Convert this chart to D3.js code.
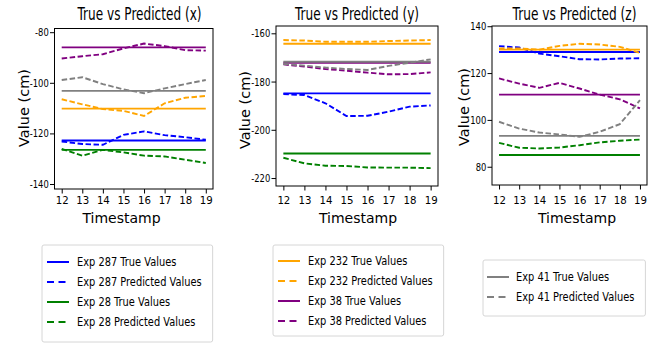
<!DOCTYPE html>
<html>
<head>
<meta charset="utf-8">
<script src="https://cdn.jsdelivr.net/npm/d3@7"></script>
<style>
  html, body { margin: 0; padding: 0; background: #fff; }
  svg { display: block; }
  text { font-family: "DejaVu Sans", sans-serif; fill: #000; }
</style>
</head>
<body>
<svg id="chart" width="662" height="343"></svg>
<script>
// ---------- DATA ----------
const timestamps = [12, 13, 14, 15, 16, 17, 18, 19];
const experiments = ["287", "28", "232", "38", "41"];
const expColors = ["#0000ff", "#008000", "#ffa500", "#800080", "#808080"];
const panelTitles = ["True vs Predicted (x)", "True vs Predicted (y)", "True vs Predicted (z)"];
const yTicksX = [-140, -120, -100, -80];
const yTicksY = [-220, -200, -180, -160];
const yTicksZ = [80, 100, 120, 140];

// true values (constant over timestamps), order = experiments
const trueX = [-122.8, -126.5, -110.2, -86.0, -103.2];
const trueY = [-184.9, -209.8, -164.3, -172.2, -171.8];
const trueZ = [129.0, 85.0, 130.0, 110.8, 93.2];

// predicted values – x
const predX287 = [-123.2, -124.2, -124.5, -120.6, -119.2, -120.7, -121.5, -122.5];
const predX28  = [-126.1, -128.8, -126.5, -127.5, -128.8, -129.1, -130.4, -131.7];
const predX232 = [-106.5, -108.5, -110.4, -111.1, -113.1, -108.1, -105.9, -105.2];
const predX38  = [-90.4, -89.5, -88.7, -86.4, -84.5, -85.5, -87.1, -87.3];
const predX41  = [-98.9, -97.8, -100.5, -102.6, -104.1, -102.2, -100.5, -98.9];

// predicted values – y
const predY287 = [-185.2, -185.6, -189.0, -194.3, -194.2, -192.5, -190.4, -189.9];
const predY28  = [-211.6, -213.9, -214.9, -215.0, -215.6, -215.7, -215.7, -215.9];
const predY232 = [-162.8, -163.0, -163.5, -163.5, -163.5, -163.2, -163.0, -162.8];
const predY38  = [-172.9, -173.8, -174.8, -175.5, -176.3, -177.0, -176.9, -176.2];
const predY41  = [-172.7, -173.4, -174.2, -174.8, -175.2, -173.5, -172.2, -170.8];

// predicted values – z
const predZ287 = [131.5, 130.9, 128.3, 127.2, 125.9, 125.8, 126.2, 126.3];
const predZ28  = [90.2, 88.1, 87.8, 88.2, 89.2, 90.4, 91.1, 91.6];
const predZ232 = [130.5, 130.5, 130.0, 131.6, 132.5, 132.2, 131.2, 128.6];
const predZ38  = [117.7, 115.5, 113.7, 115.8, 113.4, 110.8, 108.8, 104.9];
const predZ41  = [99.2, 96.3, 94.6, 93.8, 92.8, 94.9, 98.2, 108.4];

const legendGroups = [[0, 1], [2, 3], [4]];

// ---------- LAYOUT ----------
const panels = [
  { left: 54.5, right: 213, top: 28.5, bottom: 189, yDom: [-141.97, -78.54], ticks: yTicksX,
    trueV: trueX, pred: [predX287, predX28, predX232, predX38, predX41],
    titleX: 139.5, ylabX: 29, ylabY: 108, xlabX: 121.5 },
  { left: 276, right: 438, top: 26, bottom: 186, yDom: [-223.3, -156.97], ticks: yTicksY,
    trueV: trueY, pred: [predY287, predY28, predY232, predY38, predY41],
    titleX: 357, ylabX: 250, ylabY: 110, xlabX: 358 },
  { left: 492, right: 647, top: 26, bottom: 185, yDom: [72.2, 140.1], ticks: yTicksZ,
    trueV: trueZ, pred: [predZ287, predZ28, predZ232, predZ38, predZ41],
    titleX: 574.5, ylabX: 469, ylabY: 107, xlabX: 577 }
];

const legends = [
  { x: 42, y: 245, h: 97, rowY: 262, textX: 77, lineX: 47 },
  { x: 273, y: 245, h: 91, rowY: 261, textX: 308, lineX: 278 },
  { x: 483, y: 260, h: 56, rowY: 277, textX: 516, lineX: 487 }
];

const svg = d3.select("#chart");

// place a text at (x,y) and compress it horizontally by `ratio` (condensed look)
function condensedText(parent, x, y, str, size, ratio, anchor, fill) {
  const t = parent.append("text")
    .attr("x", 0).attr("y", 0)
    .attr("font-size", size)
    .attr("text-anchor", anchor || "start")
    .attr("fill", fill || "#000")
    .attr("transform", `translate(${x},${y}) scale(${ratio},1)`)
    .text(str);
  return t;
}

panels.forEach((p, pi) => {
  const x = d3.scaleLinear().domain([11.65, 19.35]).range([p.left, p.right]);
  const y = d3.scaleLinear().domain(p.yDom).range([p.bottom, p.top]);
  const g = svg.append("g");

  const line = d3.line().x((d, i) => x(timestamps[i])).y(d => y(d));

  experiments.forEach((e, ei) => {
    g.append("path")
      .attr("d", line(timestamps.map(() => p.trueV[ei])))
      .attr("fill", "none").attr("stroke", expColors[ei]).attr("stroke-width", 1.9);
    g.append("path")
      .attr("d", line(p.pred[ei]))
      .attr("fill", "none").attr("stroke", expColors[ei]).attr("stroke-width", 1.9)
      .attr("stroke-dasharray", "5.5,2.5");
  });

  // frame
  g.append("rect")
    .attr("x", p.left).attr("y", p.top)
    .attr("width", p.right - p.left).attr("height", p.bottom - p.top)
    .attr("fill", "none").attr("stroke", "#000").attr("stroke-width", 1);

  // y axis (ticks from the scale, labels condensed)
  const ya = g.append("g").attr("transform", `translate(${p.left},0)`)
    .call(d3.axisLeft(y).tickValues(p.ticks).tickSize(4.5).tickFormat(() => ""));
  ya.select(".domain").remove();
  ya.selectAll("line").attr("stroke", "#000");
  ya.selectAll(".tick").each(function (d) {
    condensedText(d3.select(this), -5.7, 3.5, String(d), 10, 0.84, "end");
  });

  // x axis
  const xa = g.append("g").attr("transform", `translate(0,${p.bottom})`)
    .call(d3.axisBottom(x).tickValues(timestamps).tickSize(4.5).tickFormat(d3.format("d")));
  xa.select(".domain").remove();
  xa.selectAll("line").attr("stroke", "#000");
  xa.selectAll("text").attr("font-size", 10.2).attr("font-family", "DejaVu Sans").attr("fill", "#000")
    .attr("dy", null).attr("y", 204 - p.bottom);

  // title (condensed to ~124px wide)
  const tt = condensedText(svg, p.titleX, 20, panelTitles[pi], 17, 1, "middle");
  const nat = tt.node().getComputedTextLength();
  tt.attr("transform", `translate(${p.titleX},20) scale(${124 / nat},1)`);

  // y label
  svg.append("text")
    .attr("transform", `translate(${p.ylabX},${p.ylabY}) rotate(-90)`)
    .attr("text-anchor", "middle").attr("font-size", 14.5)
    .text("Value (cm)");

  // x label
  svg.append("text").attr("x", p.xlabX).attr("y", 223)
    .attr("text-anchor", "middle").attr("font-size", 14)
    .text("Timestamp");
});

// ---------- LEGENDS ----------
legends.forEach((L, li) => {
  const g = svg.append("g");
  const box = g.append("rect").attr("x", L.x).attr("y", L.y).attr("height", L.h)
    .attr("rx", 2).attr("fill", "#fff").attr("stroke", "#d6d6d6").attr("stroke-width", 1);
  let maxW = 0;
  let row = 0;
  legendGroups[li].forEach(ei => {
    ["True Values", "Predicted Values"].forEach((kind, k) => {
      const cy = L.rowY + row * 20;
      g.append("line").attr("x1", L.lineX).attr("x2", L.lineX + 22)
        .attr("y1", cy).attr("y2", cy)
        .attr("stroke", expColors[ei]).attr("stroke-width", 2)
        .attr("stroke-dasharray", k === 1 ? "7,4.5" : null);
      const t = condensedText(g, L.textX, cy + 4.4, `Exp ${experiments[ei]} ${kind}`, 12.3, 0.8, "start", "#222");
      maxW = Math.max(maxW, t.node().getComputedTextLength() * 0.8);
      row++;
    });
  });
  box.attr("width", (L.textX - L.x) + maxW + 11);
});
</script>
</body>
</html>
